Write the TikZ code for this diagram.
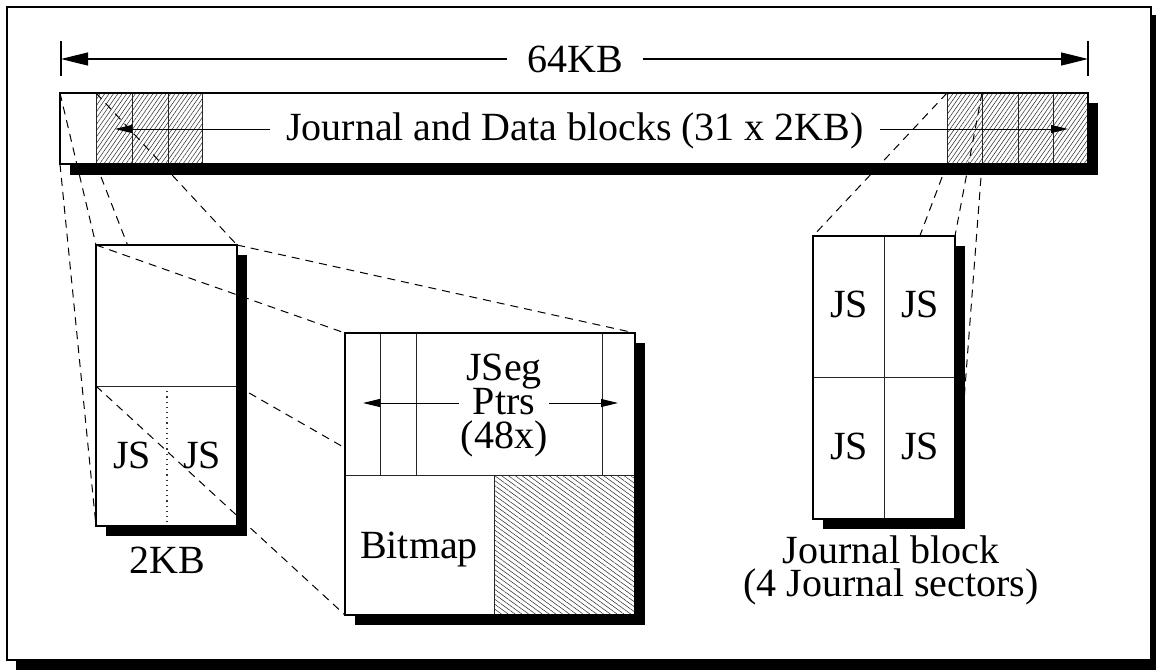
\documentclass[tikz,border=0pt]{standalone}
\usepackage{fontspec}
\setmainfont{Liberation Serif}
\usetikzlibrary{arrows.meta,patterns.meta}
\tikzset{
  lbl/.style={font=\fontsize{20pt}{24pt}\selectfont, inner sep=0pt, outer sep=0pt, anchor=base},
  boxshadow/.style={fill=black},
  thickborder/.style={draw=black, line width=1.4pt},
  thinborder/.style={draw=black, line width=0.6pt},
  divider/.style={draw=black!85, line width=0.5pt},
  zoomline/.style={line width=0.5pt, dash pattern=on 4pt off 3pt},
  bigarrow/.style={line width=0.6pt, -{Triangle[length=13.5pt,width=6.5pt]}},
  smallarrow/.style={line width=0.5pt, -{Triangle[length=8.5pt,width=4pt]}},
  crossa/.style={pattern={Lines[angle=36,distance=2.6pt,line width=0.3pt]}, pattern color=black!60},
  crossb/.style={pattern={Lines[angle=-36,distance=2.6pt,line width=0.3pt]}, pattern color=black!60},
  nefill/.style={pattern={Lines[angle=55,distance=1.8pt,line width=0.25pt]}, pattern color=black!85},
  nwfill/.style={pattern={Lines[angle=-36,distance=2pt,line width=0.25pt]}, pattern color=black!85},
}
\begin{document}
\begin{tikzpicture}[x=0.5pt,y=-0.5pt]
\useasboundingbox (0,0) rectangle (1156,670);
% outer frame
\fill[boxshadow] (16,15) rectangle (1156,670);
\draw[line width=1pt, fill=white] (7,7) rectangle (1151,660);

% ---------- 64KB dimension arrow
\coordinate (tickL) at (61,59);
\coordinate (tickR) at (1088,59);
\draw[line width=0.6pt] (tickL) ++(0,-18) -- ++(0,35);
\draw[line width=0.6pt] (tickR) ++(0,-18) -- ++(0,35);
\node[lbl, inner xsep=10pt] (t64) at (575,72.5) {64KB};
\draw[bigarrow] (t64.west |- tickL) -- (tickL);
\draw[bigarrow] (t64.east |- tickR) -- (tickR);

% ---------- top bar
\fill[boxshadow] (70,103) rectangle (1098,175);
\fill[white] (60,93) rectangle (1088,164);
\foreach \a/\b/\k in {96/132/c, 132/168/n, 168/202/c, 947/982/c, 982/1018/n, 1018/1053/n, 1053/1088/n}{
  \ifx\k c
    \fill[crossa] (\a,93) rectangle (\b,164);
    \fill[crossb] (\a,93) rectangle (\b,164);
  \else
    \fill[nefill] (\a,93) rectangle (\b,164);
  \fi
  \draw[divider] (\a,93) rectangle (\b,164);
}
\draw[thickborder] (60,93) rectangle (1088,164);
\node[lbl, inner xsep=8pt] (tbar) at (575,140) {Journal and Data blocks (31 x 2KB)};
\coordinate (barL) at (115,129);
\coordinate (barR) at (1068,129);
\draw[smallarrow] (tbar.west |- barL) -- (barL);
\draw[smallarrow] (tbar.east |- barR) -- (barR);

% ---------- named corner points
\coordinate (bTL) at (60,93);
\coordinate (bBL) at (60,164);
\coordinate (c1TL) at (96,93);
\coordinate (c1BL) at (96,164);
\coordinate (jcTL) at (947,93);
\coordinate (jcBL) at (947,164);
\coordinate (jcTR) at (982,93);
\coordinate (jcBR) at (982,164);
\coordinate (kTL) at (96,245);
\coordinate (kTR) at (237,245);
\coordinate (kML) at (96,386);
\coordinate (kMR) at (237,386);
\coordinate (kBL) at (96,526);
\coordinate (kBR) at (237,526);
\coordinate (mTL) at (345,333);
\coordinate (mTR) at (635,333);
\coordinate (mL) at (345,448);
\coordinate (mBL) at (345,615);
\coordinate (jTL) at (813,236);
\coordinate (jTR) at (955,236);
\coordinate (jBL) at (813,519);
\coordinate (jBR) at (955,519);

% ---------- dashed projection lines from the bar
\draw[zoomline] (bTL) -- (kTL);
\draw[zoomline] (bBL) -- (kBL);
\draw[zoomline] (c1BL) -- (kBR);
\draw[zoomline] (c1TL) -- (kTR);
\draw[zoomline] (jcTL) -- (jTL);
\draw[zoomline] (jcBL) -- (jBL);
\draw[zoomline] (jcTR) -- (jTR);
\draw[zoomline] (jcBR) -- (jBR);

% ---------- 2KB block
\fill[boxshadow] (106,255) rectangle (247,536);
\fill[white] (kTL) rectangle (kBR);
\draw[divider] (kML) -- (kMR);
\draw[line width=0.6pt, dotted, black!80] (167,386) -- (167,526);
\draw[thickborder] (kTL) rectangle (kBR);
\node[lbl] (js1) at (132,468) {JS};
\node[lbl] (js2) at (202,468) {JS};
\node[lbl] (t2kb) at (167,573) {2KB};

% ---------- journal block
\fill[boxshadow] (823,246) rectangle (965,529);
\fill[white] (jTL) rectangle (jBR);
\draw[divider] (884,236) -- (884,519);
\draw[divider] (813,377) -- (955,377);
\draw[thinborder] (jTL) rectangle (jBR);
\node[lbl] (js3) at (849,317) {JS};
\node[lbl] (js4) at (920,317) {JS};
\node[lbl] (js5) at (849,459) {JS};
\node[lbl] (js6) at (920,459) {JS};
\node[lbl] (tjb1) at (891,563) {Journal block};
\node[lbl] (tjb2) at (891,596) {(4 Journal sectors)};

% ---------- dashed lines 2KB -> bitmap block
\draw[zoomline] (kTL) -- (mTL);
\draw[zoomline] (kTR) -- (mTR);
\draw[zoomline] (kML) -- (mBL);
\draw[zoomline] (kMR) -- (mL);

% ---------- bitmap / JSeg block
\fill[boxshadow] (355,343) rectangle (645,625);
\fill[white] (mTL) rectangle (635,615);
\fill[nwfill] (494,475) rectangle (635,615);
\draw[divider] (345,475) -- (635,475);
\draw[divider] (494,475) -- (494,615);
\foreach \x in {380,416,602}{ \draw[divider] (\x,333) -- (\x,475); }
\draw[thickborder] (mTL) rectangle (635,615);
\node[lbl] (tjseg) at (504,380) {JSeg};
\node[lbl, inner xsep=7pt] (tptrs) at (504,414) {Ptrs};
\node[lbl] (t48) at (504,448) {(48x)};
\coordinate (pL) at (363,403);
\coordinate (pR) at (618,403);
\draw[smallarrow] (tptrs.west |- pL) -- (pL);
\draw[smallarrow] (tptrs.east |- pR) -- (pR);
\node[lbl] (tbm) at (419,558) {Bitmap};
\end{tikzpicture}
\end{document}
